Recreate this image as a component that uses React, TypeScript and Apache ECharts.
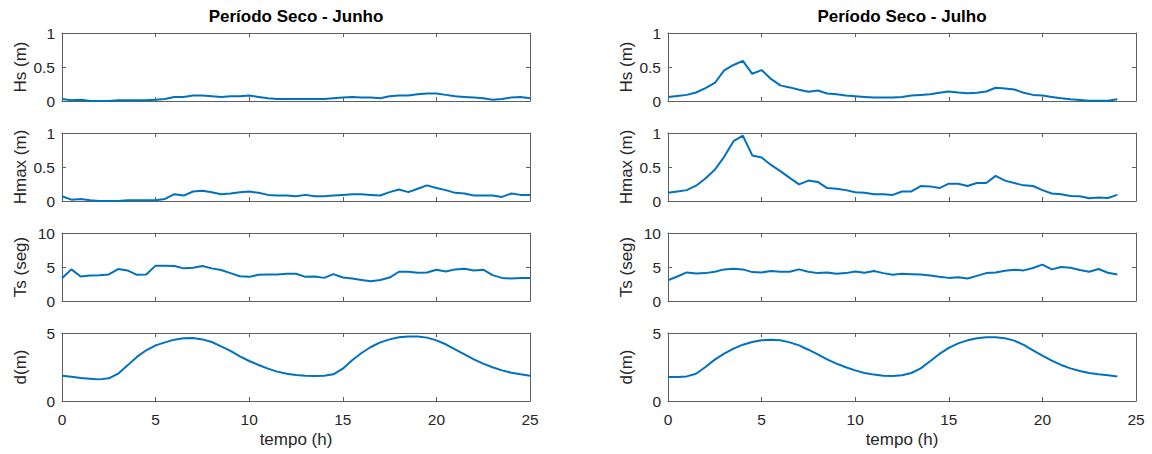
import React, { useEffect, useRef } from "react";
import * as echarts from "echarts";

// time step of the samples (h)
const DT = 0.5;

const titles = ["Período Seco - Junho", "Período Seco - Julho"];
const yNames = ["Hs (m)", "Hmax (m)", "Ts (seg)", "d(m)"];
const yMax = [1, 1, 10, 5];
const yInterval = [0.5, 0.5, 5, 5];
const xTicks = { min: 0, max: 25, interval: 5 };

// Junho (0 .. 25 h)
const hsJunho = [
  0.03, 0.01, 0.02, 0.0, 0.0, 0.0, 0.01, 0.01, 0.01, 0.01,
  0.02, 0.03, 0.06, 0.06, 0.08, 0.08, 0.07, 0.06, 0.07, 0.07,
  0.08, 0.06, 0.04, 0.03, 0.03, 0.03, 0.03, 0.03, 0.03, 0.04,
  0.05, 0.06, 0.05, 0.05, 0.04, 0.07, 0.08, 0.08, 0.1, 0.11,
  0.11, 0.09, 0.07, 0.06, 0.05, 0.04, 0.02, 0.03, 0.05, 0.06,
  0.04,
];
const hmaxJunho = [
  0.07, 0.02, 0.03, 0.01, 0.0, 0.0, 0.0, 0.01, 0.01, 0.01,
  0.01, 0.03, 0.1, 0.08, 0.14, 0.15, 0.13, 0.1, 0.11, 0.13,
  0.14, 0.12, 0.09, 0.08, 0.08, 0.07, 0.09, 0.07, 0.07, 0.08,
  0.09, 0.1, 0.1, 0.09, 0.08, 0.13, 0.17, 0.13, 0.18, 0.23,
  0.19, 0.16, 0.12, 0.11, 0.08, 0.08, 0.08, 0.06, 0.11, 0.09,
  0.09,
];
const tsJunho = [
  3.35, 4.65, 3.6, 3.75, 3.8, 3.9, 4.7, 4.5, 3.85, 3.9,
  5.2, 5.2, 5.15, 4.8, 4.9, 5.15, 4.8, 4.55, 4.1, 3.65,
  3.55, 3.85, 3.9, 3.9, 4.0, 4.0, 3.55, 3.6, 3.4, 3.95,
  3.45, 3.3, 3.1, 2.9, 3.1, 3.45, 4.3, 4.3, 4.15, 4.2,
  4.6, 4.35, 4.65, 4.75, 4.5, 4.6, 3.8, 3.4, 3.3, 3.4,
  3.4,
];
const dJunho = [
  1.86, 1.78, 1.69, 1.64, 1.59, 1.67, 2.01, 2.62, 3.24, 3.73,
  4.09, 4.31, 4.51, 4.61, 4.63, 4.53, 4.34, 4.02, 3.68, 3.28,
  2.94, 2.65, 2.38, 2.16, 2.01, 1.91, 1.86, 1.84, 1.86, 1.96,
  2.38, 2.99, 3.53, 3.97, 4.31, 4.53, 4.68, 4.75, 4.75, 4.66,
  4.46, 4.17, 3.8, 3.43, 3.06, 2.75, 2.48, 2.25, 2.08, 1.96,
  1.86,
];

// Julho (0 .. 24 h)
const hsJulho = [
  0.06, 0.075, 0.09, 0.125, 0.19, 0.265, 0.45, 0.53, 0.59, 0.4,
  0.455, 0.325, 0.23, 0.2, 0.165, 0.135, 0.155, 0.11, 0.1, 0.08,
  0.07, 0.06, 0.05, 0.05, 0.05, 0.06, 0.08, 0.09, 0.1, 0.12,
  0.14, 0.125, 0.115, 0.12, 0.14, 0.195, 0.185, 0.17, 0.12, 0.09,
  0.08, 0.06, 0.04, 0.025, 0.015, 0.005, 0.005, 0.005, 0.025,
];
const hmaxJulho = [
  0.12, 0.14, 0.16, 0.225, 0.33, 0.46, 0.65, 0.88, 0.96, 0.67,
  0.64, 0.53, 0.44, 0.34, 0.245, 0.3, 0.28, 0.19, 0.18, 0.16,
  0.13, 0.12, 0.1, 0.1, 0.09, 0.14, 0.14, 0.22, 0.215, 0.19,
  0.255, 0.255, 0.22, 0.265, 0.265, 0.37, 0.3, 0.265, 0.23, 0.22,
  0.16, 0.11, 0.1, 0.075, 0.07, 0.04, 0.05, 0.045, 0.09,
];
const tsJulho = [
  3.05, 3.6, 4.2, 4.05, 4.1, 4.3, 4.65, 4.75, 4.65, 4.25,
  4.2, 4.4, 4.3, 4.3, 4.65, 4.3, 4.1, 4.2, 4.0, 4.1,
  4.35, 4.15, 4.4, 4.1, 3.85, 4.0, 3.95, 3.9, 3.75, 3.55,
  3.4, 3.5, 3.3, 3.7, 4.1, 4.2, 4.45, 4.6, 4.5, 4.85,
  5.35, 4.65, 5.0, 4.9, 4.55, 4.3, 4.7, 4.15, 3.9,
];
const dJulho = [
  1.76, 1.76, 1.81, 2.0, 2.5, 3.04, 3.48, 3.85, 4.14, 4.34,
  4.46, 4.51, 4.46, 4.31, 4.09, 3.77, 3.43, 3.06, 2.75, 2.48,
  2.25, 2.06, 1.94, 1.86, 1.84, 1.89, 2.06, 2.4, 2.92, 3.46,
  3.9, 4.24, 4.46, 4.61, 4.68, 4.68, 4.61, 4.44, 4.12, 3.73,
  3.33, 2.97, 2.65, 2.4, 2.21, 2.06, 1.96, 1.89, 1.81,
];

const columns = [
  [hsJunho, hmaxJunho, tsJunho, dJunho],
  [hsJulho, hmaxJulho, tsJulho, dJulho],
];

const COL_LEFTS = [62, 668];
const COL_W = 468;
const ROW_TOPS = [33, 133, 233, 333];
const ROW_H = 68;

const FONT = "'Liberation Sans', Arial, Helvetica, sans-serif";
const AXIS_COLOR = "#5f5f5f";
const TEXT_COLOR = "#262626";
const LINE_COLOR = "#0072BD";

function buildOption() {
  const grid: any[] = [];
  const xAxis: any[] = [];
  const yAxis: any[] = [];
  const series: any[] = [];
  const title: any[] = [];

  columns.forEach((col, c) => {
    title.push({
      text: titles[c],
      left: COL_LEFTS[c] + COL_W / 2,
      top: 8,
      padding: 0,
      textAlign: "center",
      textStyle: { fontFamily: FONT, fontSize: 17, fontWeight: "bold", color: "#000" },
    });
    col.forEach((vals, r) => {
      const gi = grid.length;
      grid.push({ left: COL_LEFTS[c], top: ROW_TOPS[r], width: COL_W, height: ROW_H, show: false });
      const isBottom = r === 3;
      const axisLine = { show: true, onZero: false, lineStyle: { color: AXIS_COLOR, width: 1 } };
      const axisTick = { show: true, inside: true, length: 4, lineStyle: { color: AXIS_COLOR } };
      xAxis.push({
        type: "value",
        gridIndex: gi,
        position: "bottom",
        min: xTicks.min,
        max: xTicks.max,
        interval: xTicks.interval,
        axisLine,
        axisTick,
        splitLine: { show: false },
        axisLabel: {
          show: isBottom,
          margin: 10,
          fontFamily: FONT,
          fontSize: 15.5,
          color: TEXT_COLOR,
        },
        name: isBottom ? "tempo (h)" : "",
        nameLocation: "middle",
        nameGap: 30,
        nameTextStyle: { fontFamily: FONT, fontSize: 17, color: TEXT_COLOR },
      });
      xAxis.push({
        type: "value",
        gridIndex: gi,
        position: "top",
        min: xTicks.min,
        max: xTicks.max,
        interval: xTicks.interval,
        axisLine,
        axisTick,
        splitLine: { show: false },
        axisLabel: { show: false },
      });
      yAxis.push({
        type: "value",
        gridIndex: gi,
        position: "left",
        min: 0,
        max: yMax[r],
        interval: yInterval[r],
        axisLine,
        axisTick,
        splitLine: { show: false },
        axisLabel: { margin: 7, fontFamily: FONT, fontSize: 15.5, color: TEXT_COLOR },
        name: yNames[r],
        nameLocation: "middle",
        nameGap: 33,
        nameTextStyle: { fontFamily: FONT, fontSize: 17, color: TEXT_COLOR },
      });
      yAxis.push({
        type: "value",
        gridIndex: gi,
        position: "right",
        min: 0,
        max: yMax[r],
        interval: yInterval[r],
        axisLine,
        axisTick,
        splitLine: { show: false },
        axisLabel: { show: false },
      });
      series.push({
        type: "line",
        xAxisIndex: gi * 2,
        yAxisIndex: gi * 2,
        data: vals.map((v, i) => [i * DT, v]),
        showSymbol: false,
        symbol: "none",
        lineStyle: { color: LINE_COLOR, width: 2 },
        silent: true,
      });
    });
  });

  return { animation: false, backgroundColor: "#fff", title, grid, xAxis, yAxis, series };
}

export default function App() {
  const ref = useRef<HTMLDivElement>(null);
  useEffect(() => {
    document.body.style.margin = "0";
    if (!ref.current) return;
    const chart = echarts.init(ref.current, undefined, { renderer: "svg" });
    chart.setOption(buildOption() as any);
    return () => chart.dispose();
  }, []);
  return <div ref={ref} style={{ width: 1152, height: 454 }} />;
}
